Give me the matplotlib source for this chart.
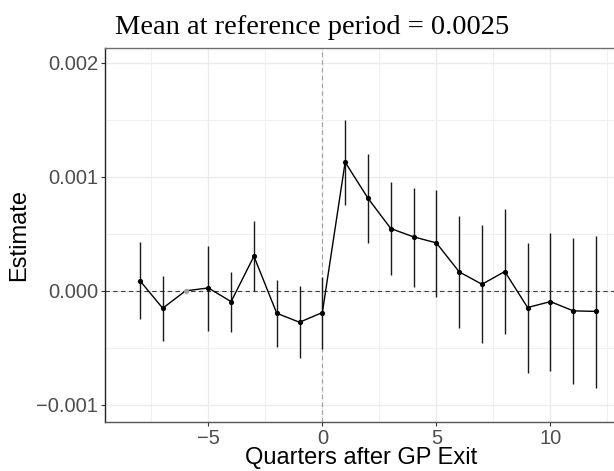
import matplotlib
matplotlib.use("Agg")
import matplotlib.pyplot as plt
import numpy as np

# Event-study estimates relative to GP exit (reference period: quarter -6)
quarters = [-8, -7, -6, -5, -4, -3, -2, -1, 0, 1, 2, 3, 4, 5, 6, 7, 8, 9, 10, 11, 12]
estimate = [0.00009, -0.000152, 0.0, 0.000026, -0.000094, 0.000304, -0.000196, -0.000275,
            -0.00019, 0.001129, 0.000813, 0.000547, 0.000474, 0.000421, 0.000167, 0.000058,
            0.00017, -0.000146, -0.000094, -0.000175, -0.00018]
ci_low = [-0.00025, -0.00044, 0.0, -0.00035, -0.00036, 0.0, -0.000488, -0.00059,
          -0.000508, 0.000757, 0.000424, 0.000137, 0.000038, -0.00005, -0.000325, -0.000459,
          -0.00038, -0.000716, -0.0007, -0.000813, -0.000848]
ci_high = [0.00043, 0.000132, 0.0, 0.000395, 0.000167, 0.00061, 0.000094, 0.000041,
           0.000126, 0.0015, 0.0012, 0.000956, 0.000904, 0.000889, 0.000658, 0.000579,
           0.000722, 0.000418, 0.000509, 0.000462, 0.000485]
reference_quarter = -6
title = "Mean at reference period = 0.0025"

fig = plt.figure(figsize=(6.14, 4.71), dpi=100)
ax = fig.add_axes([0.171, 0.104, 0.835, 0.794])

ax.set_xlim(-9.53, 12.95)
ax.set_ylim(-0.00115, 0.00213)

# grid
ax.set_xticks([-5, 0, 5, 10])
ax.set_xticks([-7.5, -2.5, 2.5, 7.5, 12.5], minor=True)
ax.set_yticks([-0.001, 0.0, 0.001, 0.002])
ax.set_yticks([-0.0005, 0.0005, 0.0015], minor=True)
ax.grid(which="major", color="#EBEBEB", linewidth=1.0)
ax.grid(which="minor", color="#F0F0F0", linewidth=0.8)
ax.set_axisbelow(True)

# reference lines
ax.axvline(0, color="#A0A0A0", linestyle=(0, (4, 3)), linewidth=0.8, zorder=1)
ax.axhline(0, color="#404040", linestyle=(0, (4, 3)), linewidth=0.8, zorder=1)

q = np.array(quarters)
est = np.array(estimate)
lo = np.array(ci_low)
hi = np.array(ci_high)
mask = q != reference_quarter

ax.vlines(q[mask], lo[mask], hi[mask], color="#1a1a1a", linewidth=1.0, zorder=2)
ax.plot(q, est, color="black", linewidth=1.0, zorder=3)
ax.scatter(q[mask], est[mask], s=14, color="black", zorder=4, linewidths=0)
ax.scatter(q[~mask], est[~mask], s=14, color="#A0A0A0", zorder=4, linewidths=0)

# axis formatting
ax.set_yticklabels(["\u22120.001", "0.000", "0.001", "0.002"])
ax.set_xticklabels(["\u22125", "0", "5", "10"])
ax.tick_params(axis="both", which="major", labelsize=14.5, labelcolor="#4D4D4D",
               color="#333333", length=3, width=0.8, pad=2,
               labelfontfamily="Liberation Sans")
ax.tick_params(axis="both", which="minor", length=0)

ax.spines["right"].set_visible(False)
ax.spines["top"].set_color("#6E6E6E")
ax.spines["left"].set_color("#222222")
ax.spines["bottom"].set_color("#555555")
for side in ["top", "left", "bottom"]:
    ax.spines[side].set_linewidth(1.0)

ax.set_xlabel("Quarters after GP Exit", fontsize=17, family="Liberation Sans", labelpad=-1)
ax.set_ylabel("Estimate", fontsize=17, family="Liberation Sans", labelpad=4)
ax.set_title(title, loc="left", fontsize=20.5, family="Liberation Serif", pad=10, x=0.02)

fig.savefig("out.png", dpi=100)
